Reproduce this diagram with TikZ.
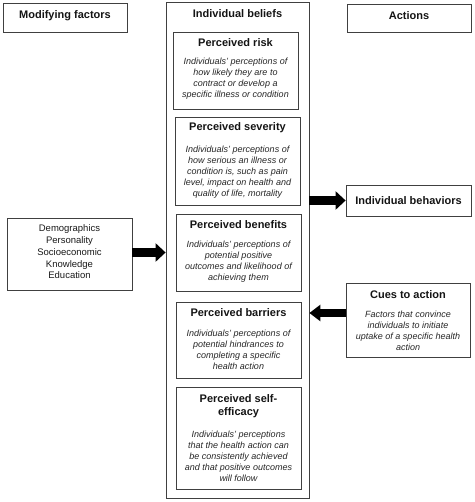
\documentclass[tikz,border=0pt]{standalone}
\usepackage{fontspec}
\setmainfont{Liberation Sans}
\usetikzlibrary{arrows.meta,positioning,fit}
\tikzset{
  box/.style={draw=black!75, line width=0.8pt, inner sep=0pt, fill=none},
  ttl/.style={font=\bfseries\fontsize{11}{13}\selectfont, inner sep=0pt, align=center, text=black!92},
  bdy/.style={font=\itshape\fontsize{9}{11}\selectfont, inner sep=0pt, align=center, text=black!85},
  plain/.style={font=\fontsize{9.5}{11.7}\selectfont, inner sep=0pt, align=center, text=black!90},
  fat/.style={line width=9pt, black, -{Triangle[length=10pt,width=18pt]}}
}
\begin{document}
\begin{tikzpicture}[x=1pt,y=-1pt]
\useasboundingbox (0,0) rectangle (474,502);
% top headers
\node[box, fit={(3,3) (127,32)}] (mod) {};
\node[ttl] (modT) at (65,16) {Modifying factors};
\node[box, fit={(166,2) (309,498)}] (beliefs) {};
\node[ttl] (belT) at (237.5,14) {Individual beliefs};
\node[box, fit={(347,4) (471,32)}] (act) {};
\node[ttl] (actT) at (409,16) {Actions};
% inner boxes
\node[box, fit={(173,32) (298,109)}] (risk) {};
\node[ttl] (riskT) at (235.5,43) {Perceived risk};
\node[bdy] (riskB) at (235.5,79) {Individuals' perceptions of\\how likely they are to\\contract or develop a\\specific illness or condition};
\node[box, fit={(175,117) (300,205)}] (sev) {};
\node[ttl] (sevT) at (237.5,128) {Perceived severity};
\node[bdy] (sevB) at (237.5,172.5) {Individuals' perceptions of\\how serious an illness or\\condition is, such as pain\\level, impact on health and\\quality of life, mortality};
\node[box, fit={(176,214) (301,291)}] (ben) {};
\node[ttl] (benT) at (238.5,225) {Perceived benefits};
\node[bdy] (benB) at (238.5,262) {Individuals' perceptions of\\potential positive\\outcomes and likelihood of\\achieving them};
\node[box, fit={(176,302) (301,378)}] (bar) {};
\node[ttl] (barT) at (238.5,313) {Perceived barriers};
\node[bdy] (barB) at (238.5,350) {Individuals' perceptions of\\potential hindrances to\\completing a specific\\health action};
\node[box, fit={(176,387) (301,489)}] (eff) {};
\node[ttl] (effT) at (238.5,406.5) {Perceived self-\\efficacy};
\node[bdy] (effB) at (238.5,456) {Individuals' perceptions\\that the health action can\\be consistently achieved\\and that positive outcomes\\will follow};
% left box
\node[box, fit={(7,218) (132,290)}] (demo) {};
\node[plain] (demoT) at (69.5,252) {Demographics\\Personality\\Socioeconomic\\Knowledge\\Education};
% right boxes
\node[box, fit={(346,185) (471,216)}] (behav) {};
\node[ttl] (behavT) at (408.5,200.5) {Individual behaviors};
\node[box, fit={(346,283) (470,357)}] (cues) {};
\node[ttl] (cuesT) at (408,295) {Cues to action};
\node[bdy] (cuesB) at (408,331) {Factors that convince\\individuals to initiate\\uptake of a specific health\\action};
% arrows
\coordinate (demoA) at (132,252.5);
\draw[fat] (demoA) -- (demoA -| beliefs.west);
\draw[fat] (beliefs.east |- behav.west) -- (behav.west);
\coordinate (cuesA) at (346,313);
\draw[fat, line width=8pt, -{Triangle[length=11pt,width=16pt]}] (cuesA) -- (cuesA -| beliefs.east);
\end{tikzpicture}
\end{document}
